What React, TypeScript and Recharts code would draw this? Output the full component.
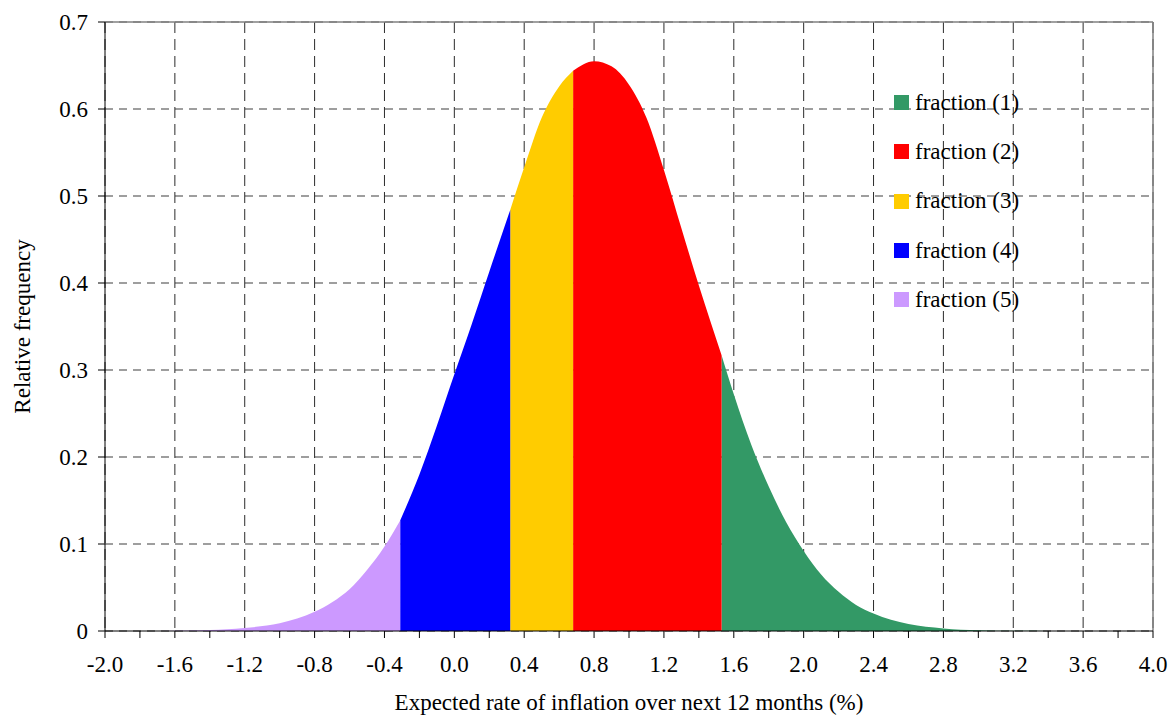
import React from 'react';
import {
  ComposedChart,
  Area,
  XAxis,
  YAxis,
  CartesianGrid,
  ReferenceLine,
  Legend,
  Label
} from 'recharts';

// x positions (%), density
const xValues = [
  -2.0, -1.8, -1.6, -1.4, -1.2, -1.0, -0.8, -0.7, -0.6, -0.5, -0.4, -0.31,
  -0.2, -0.1, 0.0, 0.1, 0.2, 0.32, 0.4, 0.5, 0.6, 0.68, 0.8, 0.9, 1.0, 1.1,
  1.2, 1.3, 1.4, 1.53, 1.6, 1.7, 1.8, 1.9, 2.0, 2.1, 2.2, 2.3, 2.4, 2.6, 2.8,
  3.0, 3.2, 3.4, 4.0
];
const density = [
  0, 0.0001, 0.0004, 0.0012, 0.0035, 0.0088, 0.022, 0.033, 0.048, 0.07, 0.097, 0.127,
  0.18, 0.236, 0.295, 0.353, 0.413, 0.484, 0.533, 0.59, 0.626, 0.644, 0.655, 0.649, 0.628, 0.59,
  0.53, 0.463, 0.397, 0.317, 0.272, 0.214, 0.166, 0.125, 0.092, 0.065, 0.045, 0.03, 0.02, 0.008, 0.003,
  0.0009, 0.0002, 0, 0
];
// boundaries between fractions (5|4, 4|3, 3|2, 2|1)
const cuts = [-0.31, 0.32, 0.68, 1.53];

const seriesKeys = ['f1', 'f2', 'f3', 'f4', 'f5'];
const seriesNames = ['fraction (1)', 'fraction (2)', 'fraction (3)', 'fraction (4)', 'fraction (5)'];
const seriesColors = ['#339966', '#FF0000', '#FFCC00', '#0000FF', '#CC99FF'];

const xTicks = [
  -2.0, -1.8, -1.6, -1.4, -1.2, -1.0, -0.8, -0.6, -0.4, -0.2, 0.0, 0.2, 0.4, 0.6, 0.8,
  1.0, 1.2, 1.4, 1.6, 1.8, 2.0, 2.2, 2.4, 2.6, 2.8, 3.0, 3.2, 3.4, 3.6, 3.8, 4.0
];
const gridXTicks = [-2.0, -1.6, -1.2, -0.8, -0.4, 0.0, 0.4, 0.8, 1.2, 1.6, 2.0, 2.4, 2.8, 3.2, 3.6, 4.0];
const yTicks = [0, 0.1, 0.2, 0.3, 0.4, 0.5, 0.6, 0.7];

const FONT = '"Liberation Serif", "Times New Roman", serif';
const FS = 23;

const chartData = xValues.map((x, i) => {
  const y = density[i];
  return {
    x,
    f5: x <= cuts[0] ? y : null,
    f4: x >= cuts[0] && x <= cuts[1] ? y : null,
    f3: x >= cuts[1] && x <= cuts[2] ? y : null,
    f2: x >= cuts[2] && x <= cuts[3] ? y : null,
    f1: x >= cuts[3] ? y : null
  };
});

const formatX = (v: number) => (Math.abs(Math.round(v * 10)) % 4 === 0 ? v.toFixed(1) : '');
const formatY = (v: number) => (v === 0 ? '0' : v.toFixed(1));

const renderLegend = () => (
  <div style={{ fontFamily: FONT, fontSize: FS, color: '#000' }}>
    {seriesNames.map((name, i) => (
      <div key={name} style={{ display: 'flex', alignItems: 'center', height: 49.3 }}>
        <span style={{ width: 15, height: 15, background: seriesColors[i], marginRight: 6, display: 'inline-block' }} />
        <span>{name}</span>
      </div>
    ))}
  </div>
);

export default function App() {
  return (
    <div style={{ position: 'absolute', left: 0, top: 0, background: '#fff' }}>
      <ComposedChart
        width={1175}
        height={716}
        data={chartData}
        margin={{ top: 22, right: 22, bottom: 0, left: 0 }}
      >
        <CartesianGrid horizontal={true} vertical={false} stroke="#7f7f7f" strokeWidth={1.6} strokeDasharray="8 6" />
        <CartesianGrid xAxisId="grid" horizontal={false} vertical={true} stroke="#2b2b2b" strokeWidth={1} strokeDasharray="11 6" />
        <XAxis
          xAxisId="grid"
          type="number"
          dataKey="x"
          domain={[-2, 4]}
          ticks={gridXTicks}
          hide
        />
        <XAxis
          type="number"
          dataKey="x"
          domain={[-2, 4]}
          ticks={xTicks}
          interval={0}
          tickFormatter={formatX}
          height={85}
          tickSize={7}
          tickMargin={18}
          stroke="#000"
          tick={{ fill: '#000', fontSize: FS, fontFamily: FONT }}
        >
          <Label
            value="Expected rate of inflation over next 12 months (%)"
            position="insideBottom"
            offset={6}
            style={{ fill: '#000', fontSize: FS, fontFamily: FONT }}
          />
        </XAxis>
        <YAxis
          type="number"
          domain={[0, 0.7]}
          ticks={yTicks}
          interval={0}
          tickFormatter={formatY}
          width={105}
          tickSize={7}
          tickMargin={10}
          stroke="#000"
          tick={{ fill: '#000', fontSize: FS, fontFamily: FONT }}
        >
          <Label
            value="Relative frequency"
            angle={-90}
            position="insideLeft"
            offset={22}
            style={{ fill: '#000', fontSize: FS, fontFamily: FONT, textAnchor: 'middle' }}
          />
        </YAxis>
        {seriesKeys.map((key, i) => (
          <Area
            key={key}
            type="monotone"
            dataKey={key}
            name={seriesNames[i]}
            stroke="none"
            fill={seriesColors[i]}
            fillOpacity={1}
            isAnimationActive={false}
            dot={false}
            activeDot={false}
          />
        ))}
        <ReferenceLine y={0.7} stroke="#808080" strokeWidth={1.5} />
        <ReferenceLine x={4} stroke="#808080" strokeWidth={1.5} />
        <Legend
          layout="vertical"
          align="center"
          verticalAlign="middle"
          content={renderLegend}
          wrapperStyle={{ left: 894, top: 78, width: 'auto', height: 'auto' }}
        />
      </ComposedChart>
    </div>
  );
}
